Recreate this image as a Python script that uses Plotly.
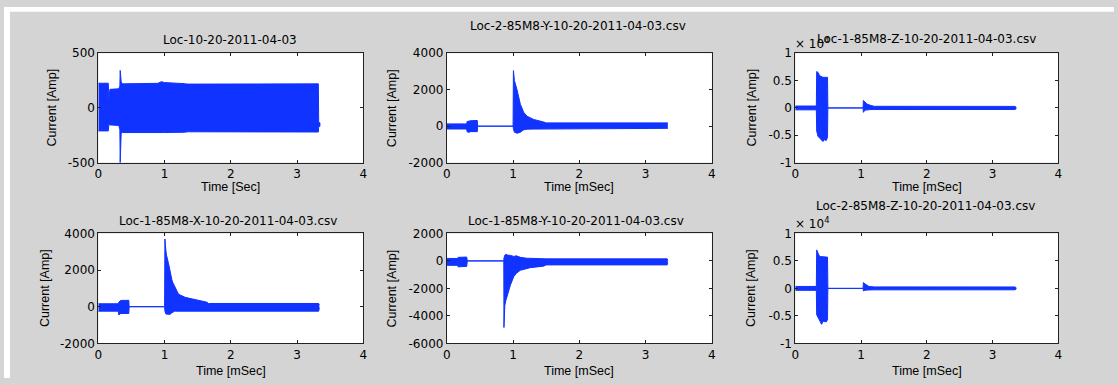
import plotly.graph_objects as go

W, H = 1118, 385
BLUE = "#1133ff"
GRAY = "#d4d4d4"

# ---- waveform envelopes (time in ms / s, current in Amp) ----
# Loc-10-20-2011-04-03
p1_t = [0, 0.15, 0.16, 0.175, 0.31, 0.325, 0.33, 0.335, 0.345, 0.36, 0.9, 0.95, 1.0, 1.3, 1.35, 3.32, 3.325, 3.35]
p1_hi = [226, 226, 80, 170, 175, 200, 343, 260, 240, 220, 225, 240, 232, 222, 218, 220, -130, -140]
p1_lo = [-210, -210, -150, -155, -160, -200, -500, -240, -230, -225, -228, -230, -225, -222, -218, -220, -170, -165]

# Loc-2-85M8-Y-10-20-2011-04-03.csv
p2_t = [0, 0.3, 0.305, 0.33, 0.36, 0.46, 0.465, 1.0, 1.005, 1.02, 1.06, 1.11, 1.16, 1.21, 1.31, 1.46, 1.5, 3.325, 3.335]
p2_hi = [125, 125, 250, 280, 300, 310, 0, 0, 3050, 2500, 1990, 1200, 760, 550, 370, 230, 180, 180, 190]
p2_lo = [-155, -155, -300, -340, -300, -300, 0, 0, -150, -330, -390, -330, -200, -165, -160, -160, -160, -160, -120]

# Loc-1-85M8-Z-10-20-2011-04-03.csv
p3_t = [0, 0.32, 0.325, 0.345, 0.37, 0.385, 0.41, 0.42, 0.44, 0.47, 0.49, 0.495, 1.03, 1.035, 1.06, 1.09, 1.15, 1.2, 3.34, 3.36]
p3_hi = [350, 350, 6650, 6500, 5900, 5800, 5650, 5600, 5600, 5600, 5600, 0, 0, 1350, 1000, 700, 450, 300, 280, 120]
p3_lo = [-350, -350, -4200, -5200, -5500, -5750, -6000, -6150, -5800, -5950, -5400, 0, 0, -800, -400, -330, -300, -290, -280, -120]

# Loc-1-85M8-X-10-20-2011-04-03.csv
p4_t = [0, 0.3, 0.31, 0.34, 0.46, 0.465, 1.0, 1.005, 1.02, 1.03, 1.06, 1.08, 1.11, 1.12, 1.15, 1.16, 1.21, 1.31, 1.51, 1.64, 1.66, 3.325, 3.335]
p4_hi = [160, 160, 250, 340, 350, 0, 0, 3700, 3050, 2800, 2350, 1900, 1470, 1350, 1100, 1035, 685, 510, 335, 245, 175, 175, 110]
p4_lo = [-245, -245, -450, -370, -370, 0, 0, -250, -400, -410, -420, -420, -330, -300, -250, -245, -245, -245, -245, -245, -245, -245, -60]

# Loc-1-85M8-Y-10-20-2011-04-03.csv
p5_t = [0, 0.16, 0.17, 0.3, 0.31, 0.86, 0.862, 0.865, 0.875, 0.89, 0.91, 0.96, 1.01, 1.05, 1.11, 1.2, 1.26, 1.46, 1.5, 3.325, 3.335]
p5_hi = [180, 180, 260, 280, 0, 0, 200, 380, 420, 490, 430, 400, 330, 370, 260, 200, 180, 150, 150, 150, 50]
p5_lo = [-320, -320, -430, -400, 0, 0, -4850, -3800, -3250, -2900, -2550, -1750, -1150, -900, -680, -560, -490, -380, -290, -290, -150]

# Loc-2-85M8-Z-10-20-2011-04-03.csv
p6_t = [0, 0.32, 0.325, 0.35, 0.36, 0.38, 0.4, 0.42, 0.47, 0.49, 0.495, 1.03, 1.035, 1.06, 1.08, 1.12, 1.2, 3.34, 3.36]
p6_hi = [350, 350, 7000, 6200, 6000, 5800, 5750, 5700, 5700, 5700, 0, 0, 1050, 800, 600, 350, 270, 260, 100]
p6_lo = [-350, -350, -4800, -5300, -5650, -6000, -6550, -6000, -6100, -5700, 0, 0, -470, -330, -300, -280, -270, -260, -100]

titles = [
    "Loc-10-20-2011-04-03",
    "Loc-2-85M8-Y-10-20-2011-04-03.csv",
    "Loc-1-85M8-Z-10-20-2011-04-03.csv",
    "Loc-1-85M8-X-10-20-2011-04-03.csv",
    "Loc-1-85M8-Y-10-20-2011-04-03.csv",
    "Loc-2-85M8-Z-10-20-2011-04-03.csv",
]
x_titles = ["Time [Sec]", "Time [mSec]", "Time [mSec]", "Time [mSec]", "Time [mSec]", "Time [mSec]"]
y_title = "Current [Amp]"

x_ticks = [0, 1, 2, 3, 4]
y_ranges = [[-500, 500], [-2000, 4000], [-10000, 10000], [-2000, 4000], [-6000, 2000], [-10000, 10000]]
y_tickvals = [
    [-500, 0, 500],
    [-2000, 0, 2000, 4000],
    [-10000, -5000, 0, 5000, 10000],
    [-2000, 0, 2000, 4000],
    [-6000, -4000, -2000, 0, 2000],
    [-10000, -5000, 0, 5000, 10000],
]
y_ticktext = [
    ["-500", "0", "500"],
    ["-2000", "0", "2000", "4000"],
    ["-1", "-0.5", "0", "0.5", "1"],
    ["-2000", "0", "2000", "4000"],
    ["-6000", "-4000", "-2000", "0", "2000"],
    ["-1", "-0.5", "0", "0.5", "1"],
]
scaled = [False, False, True, False, False, True]

series = [
    (p1_t, p1_hi, p1_lo), (p2_t, p2_hi, p2_lo), (p3_t, p3_hi, p3_lo),
    (p4_t, p4_hi, p4_lo), (p5_t, p5_hi, p5_lo), (p6_t, p6_hi, p6_lo),
]

# axes boxes in pixels: (left, right), (top, bottom)
col_px = [(95, 362), (446, 713), (797, 1062)]
row_px = [(48, 161.5), (235, 349)]

def px(x):
    return x / W

def py(y):
    return 1 - y / H

fig = go.Figure()
layout = {}
annotations = []
font_tick = dict(family="DejaVu Sans", size=12, color="black")
font_title = dict(family="DejaVu Sans", size=12, color="black")
font_label = dict(family="Liberation Sans", size=12.5, color="black")

title_pos = [(228, 34), (578, 20), (929, 33), (226, 222), (576, 222), (928, 207)]
xlab_y = [187, 187, 187, 378, 378, 378]
ylab_x = [48, 391, 753, 42, 391, 753]

for i in range(6):
    r, c = divmod(i, 3)
    (l, rr), (t, b) = col_px[c], row_px[r]
    k = "" if i == 0 else str(i + 1)
    tt, hi, lo = series[i]
    fig.add_trace(go.Scatter(x=tt, y=lo, mode="lines", line=dict(color=BLUE, width=1),
                             xaxis="x" + k, yaxis="y" + k, showlegend=False, hoverinfo="skip"))
    fig.add_trace(go.Scatter(x=tt, y=hi, mode="lines", line=dict(color=BLUE, width=1),
                             fill="tonexty", fillcolor=BLUE,
                             xaxis="x" + k, yaxis="y" + k, showlegend=False, hoverinfo="skip"))
    common = dict(ticks="inside", ticklen=3, tickwidth=1, tickcolor="#222222", mirror="ticks",
                  showline=True, linecolor="#222222", linewidth=1, showgrid=False, zeroline=False,
                  tickfont=font_tick)
    layout["xaxis" + k] = dict(domain=[px(l), px(rr)], anchor="y" + k, range=[0, 4],
                               tickvals=x_ticks, ticktext=[str(v) for v in x_ticks], **common)
    layout["yaxis" + k] = dict(domain=[py(b), py(t)], anchor="x" + k, range=y_ranges[i],
                               tickvals=y_tickvals[i], ticktext=y_ticktext[i], **common)

    cx, cy = title_pos[i]
    annotations.append(dict(text=titles[i], x=px(cx), y=py(cy), xref="paper", yref="paper",
                            xanchor="center", yanchor="middle", showarrow=False, font=font_title))
    annotations.append(dict(text=x_titles[i], x=px((l + rr) / 2), y=py(xlab_y[i]), xref="paper",
                            yref="paper", xanchor="center", yanchor="middle", showarrow=False,
                            font=font_label))
    annotations.append(dict(text=y_title, x=px(ylab_x[i]), y=py((t + b) / 2), xref="paper",
                            yref="paper", xanchor="center", yanchor="middle", textangle=-90,
                            showarrow=False, font=font_label))
    if scaled[i]:
        annotations.append(dict(text="\u00d7 10<sup>4</sup>", x=px(l - 2), y=py(t - 11),
                                xref="paper", yref="paper", xanchor="left", yanchor="middle",
                                showarrow=False, font=font_title))

layout["annotations"] = annotations
# white strips along the top and left edges of the gray figure background
layout["shapes"] = [
    dict(type="rect", xref="paper", yref="paper", x0=0, x1=1, y0=py(5), y1=1,
         fillcolor="white", line=dict(width=0), layer="below"),
    dict(type="rect", xref="paper", yref="paper", x0=0, x1=px(6), y0=0, y1=1,
         fillcolor="white", line=dict(width=0), layer="below"),
]

fig.update_layout(width=W, height=H, margin=dict(l=0, r=0, t=0, b=0),
                  paper_bgcolor=GRAY, plot_bgcolor="white", **layout)

fig.write_html("out.html")
